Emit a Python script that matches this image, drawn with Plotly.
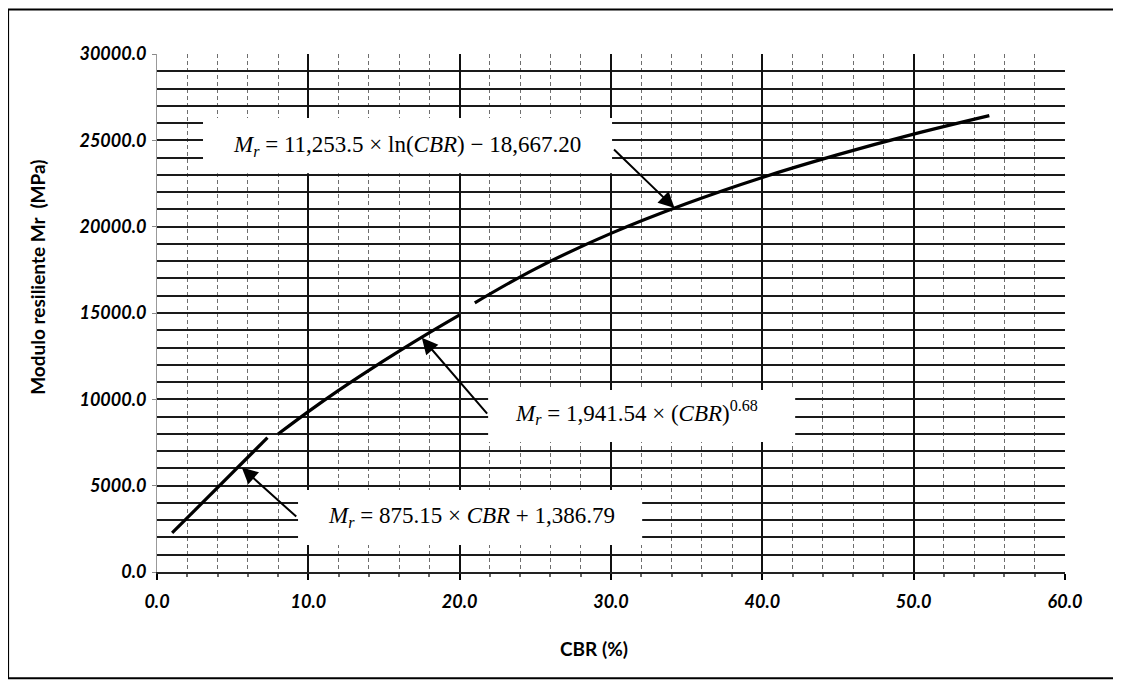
import plotly.graph_objects as go

# Data
# Segment 1: linear fit
cbr_lin = [1.0, 7.3]
mr_lin = [2260, 7780]

# Segment 2: power fit
cbr_pow = [8.0, 10.0, 12.0, 14.0, 16.0, 18.0, 20.0]
mr_pow = [7990, 9290, 10520, 11680, 12790, 13860, 14890]

# Segment 3: log fit
cbr_log = [21.0, 25.0, 30.0, 35.0, 40.0, 45.0, 50.0, 55.0]
mr_log = [15590, 17560, 19610, 21340, 22850, 24170, 25360, 26430]

x_ticks = [0, 10, 20, 30, 40, 50, 60]
x_labels = ["0.0", "10.0", "20.0", "30.0", "40.0", "50.0", "60.0"]
y_ticks = [0, 5000, 10000, 15000, 20000, 25000, 30000]
y_labels = ["0.0", "5000.0", "10000.0", "15000.0", "20000.0", "25000.0", "30000.0"]

eq_log = "<i>M</i><sub><i>r</i></sub> = 11,253.5 × ln(<i>CBR</i>) − 18,667.20"
eq_pow = "<i>M</i><sub><i>r</i></sub> = 1,941.54 × (<i>CBR</i>)<sup>0.68</sup>"
eq_lin = "<i>M</i><sub><i>r</i></sub> = 875.15 × <i>CBR</i> + 1,386.79"

fig = go.Figure()

line_style = dict(color="black", width=3.2)
fig.add_trace(go.Scatter(x=cbr_lin, y=mr_lin, mode="lines", line=line_style))
fig.add_trace(go.Scatter(x=cbr_pow, y=mr_pow, mode="lines", line=line_style, line_shape="spline"))
fig.add_trace(go.Scatter(x=cbr_log, y=mr_log, mode="lines", line=line_style, line_shape="spline"))

tick_font = dict(family="Lato", size=18, color="black")

fig.update_xaxes(
    range=[0, 60], tickvals=x_ticks, ticktext=["<b><i>%s</i></b>" % t for t in x_labels],
    tickfont=tick_font,
    showgrid=True, gridcolor="#111", gridwidth=2.2,
    minor=dict(dtick=2, showgrid=True, gridcolor="#6e6e6e", gridwidth=1, griddash="4px,3px",
               ticks="outside", ticklen=3, tickcolor="#666"),
    ticks="outside", ticklen=6, tickwidth=2, tickcolor="black",
    showline=True, linecolor="#222", linewidth=2, zeroline=False,
    ticklabelstandoff=6,
)
fig.update_yaxes(
    range=[0, 30000], tickvals=y_ticks, ticktext=["<b><i>%s</i></b>" % t for t in y_labels],
    tickfont=tick_font,
    showgrid=True, gridcolor="#1a1a1a", gridwidth=1.6,
    minor=dict(dtick=1000, showgrid=True, gridcolor="#1a1a1a", gridwidth=1.6),
    ticks="outside", ticklen=4, tickcolor="#888",
    showline=True, linecolor="#999", linewidth=1, zeroline=False,
    ticklabelstandoff=2,
)

# white label boxes covering the grid
boxes = [
    (3.04, 30.07, 23100, 26290),
    (21.88, 42.17, 7530, 10540),
    (9.32, 32.06, 1560, 4750),
]
for x0, x1, y0, y1 in boxes:
    fig.add_shape(type="rect", xref="x", yref="y", x0=x0, x1=x1, y0=y0, y1=y1,
                  fillcolor="white", line=dict(width=0), layer="above")

eq_font = dict(family="Liberation Serif", size=23, color="black")
fig.add_annotation(x=16.5, y=24650, xref="x", yref="y", text=eq_log, showarrow=False, font=eq_font)
fig.add_annotation(x=31.7, y=9250, xref="x", yref="y", text=eq_pow, showarrow=False, font=eq_font)
fig.add_annotation(x=20.75, y=3200, xref="x", yref="y", text=eq_lin, showarrow=False, font=eq_font)

# arrows pointing at the curves
arrows = [
    (34.2, 21080, 30.1, 24550),
    (17.5, 13560, 21.9, 9090),
    (5.6, 6050, 9.3, 3130),
]
for hx, hy, tx, ty in arrows:
    fig.add_annotation(x=hx, y=hy, ax=tx, ay=ty, xref="x", yref="y", axref="x", ayref="y",
                       text="", showarrow=True, arrowhead=2, arrowsize=1.6,
                       arrowwidth=2, arrowcolor="black")

# axis titles
title_font = dict(family="Lato", size=19, color="black")
fig.add_annotation(x=0.481, y=-0.147, xref="paper", yref="paper", text="<b>CBR (%)</b>",
                   showarrow=False, font=title_font, yanchor="middle")
fig.add_annotation(x=-0.131, y=0.568, xref="paper", yref="paper", text="<b>Modulo resiliente Mr  (MPa)</b>",
                   showarrow=False, font=title_font, textangle=-90, xanchor="center")

# chart frame
fig.add_shape(type="rect", xref="paper", yref="paper", x0=-0.164, x1=1.0585, y0=-0.205, y1=1.086,
              line=dict(color="black", width=2), fillcolor="rgba(0,0,0,0)")

# page has an 8px body margin, so plot area is shifted by that
fig.update_layout(
    width=1121, height=680,
    margin=dict(l=149, r=64, t=46, b=116),
    paper_bgcolor="white", plot_bgcolor="white",
    showlegend=False,
)

fig.write_html("out.html")
